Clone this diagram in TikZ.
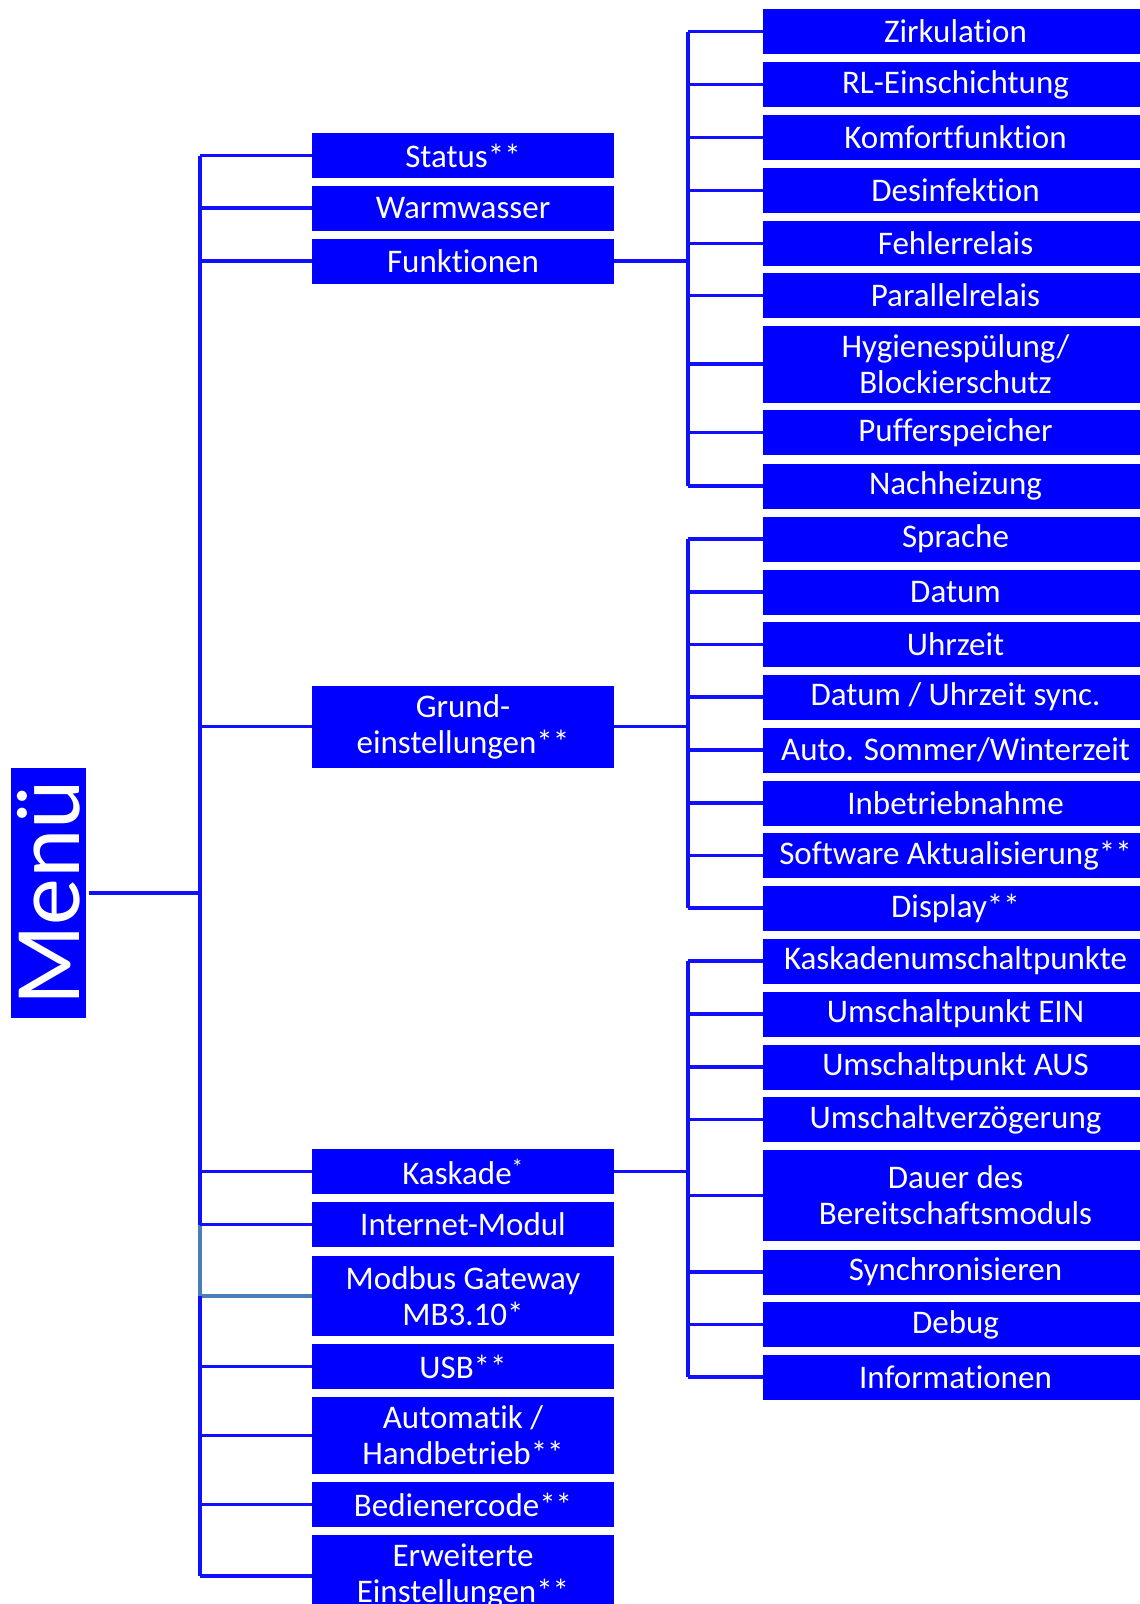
\documentclass[tikz,border=0pt]{standalone}
\usepackage{fontspec}
\setmainfont{Carlito}[RawFeature={-liga;-clig;-dlig;-calt}]
\usepackage{xcolor}
\definecolor{menublue}{RGB}{0,0,255}
\definecolor{linkblue}{RGB}{16,16,255}
\definecolor{greyblue}{RGB}{74,126,187}

\begin{document}
\begin{tikzpicture}[x=1pt,y=-1pt,
	item/.style={fill=menublue,text=white,inner sep=0pt,align=center,font=\fontsize{33}{36}\selectfont},
	mainitem/.style={item,minimum width=302,minimum height=45},
	subitem/.style={item,minimum width=385,minimum height=45},
	link/.style={draw=linkblue,line width=3.5}]
	\useasboundingbox (0,0) rectangle (1140,1604);
	\clip (0,0) rectangle (1140,1604);

	\node[item,rotate=90,minimum width=250,minimum height=75,font=\fontsize{94}{94}\selectfont] (menu) at (48.5,893) {Menü};

	\node[mainitem] (status) at (463,155.5) {Status**};
	\node[mainitem] (warm) at (463,208) {Warmwasser};
	\node[mainitem] (funk) at (463,261) {Funktionen};
	\node[mainitem,minimum height=82] (grund) at (463,726.5) {Grund-\\einstellungen**};
	\node[mainitem] (kaskade) at (463,1171.5) {Kaskade\textsuperscript{*}};
	\node[mainitem] (internet) at (463,1224.5) {Internet-Modul};
	\node[mainitem,minimum height=80] (modbus) at (463,1296) {Modbus Gateway\\MB3.10*};
	\node[mainitem] (usb) at (463,1366.5) {USB**};
	\node[mainitem,minimum height=77] (automatik) at (463,1435.5) {Automatik /\\Handbetrieb**};
	\node[mainitem] (bediener) at (463,1504.5) {Bedienercode**};
	\node[mainitem,minimum height=82] (erweitert) at (463,1576) {Erweiterte\\Einstellungen**};

	\node[subitem] (zirk) at (955.5,31.5) {Zirkulation};
	\node[subitem] (rl) at (955.5,84.5) {RL-Einschichtung};
	\node[subitem] (komfort) at (955.5,137.5) {Komfortfunktion};
	\node[subitem] (desinf) at (955.5,190.5) {Desinfektion};
	\node[subitem] (fehler) at (955.5,243.5) {Fehlerrelais};
	\node[subitem] (parallel) at (955.5,295.5) {Parallelrelais};
	\node[subitem,minimum height=77] (hygiene) at (955.5,364) {Hygienespülung/\\Blockierschutz};
	\node[subitem] (puffer) at (955.5,432.5) {Pufferspeicher};
	\node[subitem] (nachheiz) at (955.5,486) {Nachheizung};

	\node[subitem] (sprache) at (955.5,539) {Sprache};
	\node[subitem] (datum) at (955.5,592) {Datum};
	\node[subitem] (uhrzeit) at (955.5,644.5) {Uhrzeit};
	\node[subitem] (sync) at (955.5,697) {Datum / Uhrzeit sync.};
	\node[subitem] (sommer) at (955.5,750) {Auto. Sommer/Winterzeit};
	\node[subitem] (inbetrieb) at (955.5,803) {Inbetriebnahme};
	\node[subitem] (software) at (955.5,855.5) {Software Aktualisierung**};
	\node[subitem] (display) at (955.5,908) {Display**};

	\node[subitem] (umpunkte) at (955.5,961) {Kaskadenumschaltpunkte};
	\node[subitem] (ein) at (955.5,1014) {Umschaltpunkt EIN};
	\node[subitem] (aus) at (955.5,1067) {Umschaltpunkt AUS};
	\node[subitem] (verz) at (955.5,1119.5) {Umschaltverzögerung};
	\node[subitem,minimum height=91] (dauer) at (955.5,1195.5) {Dauer des\\Bereitschaftsmoduls};
	\node[subitem] (synchron) at (955.5,1272) {Synchronisieren};
	\node[subitem] (debug) at (955.5,1324.5) {Debug};
	\node[subitem] (info) at (955.5,1377) {Informationen};

	\coordinate (mainbar) at (200,0);
	\coordinate (subbar) at (688,0);

	\draw[link] ([xshift=3]menu.south) -- (menu.south -| mainbar);
	\draw[link] (status.west -| mainbar) -- (internet.west -| mainbar);
	\draw[draw=greyblue,line width=3.5] (internet.west -| mainbar) -- (modbus.west -| mainbar) -- (modbus.west);
	\draw[link] (modbus.west -| mainbar) -- (erweitert.west -| mainbar);
	\foreach \n in {status,warm,funk,grund,kaskade,internet,usb,automatik,bediener,erweitert}
		\draw[link] (\n.west) -- (\n.west -| mainbar);

	\draw[link] (funk.east) -- (funk.east -| subbar);
	\draw[link] (zirk.west -| subbar) -- (nachheiz.west -| subbar);
	\foreach \n in {zirk,rl,komfort,desinf,fehler,parallel,hygiene,puffer,nachheiz}
		\draw[link] (\n.west) -- (\n.west -| subbar);

	\draw[link] (grund.east) -- (grund.east -| subbar);
	\draw[link] (sprache.west -| subbar) -- (display.west -| subbar);
	\foreach \n in {sprache,datum,uhrzeit,sync,sommer,inbetrieb,software,display}
		\draw[link] (\n.west) -- (\n.west -| subbar);

	\draw[link] (kaskade.east) -- (kaskade.east -| subbar);
	\draw[link] (umpunkte.west -| subbar) -- (info.west -| subbar);
	\foreach \n in {umpunkte,ein,aus,verz,dauer,synchron,debug,info}
		\draw[link] (\n.west) -- (\n.west -| subbar);
\end{tikzpicture}
\end{document}
